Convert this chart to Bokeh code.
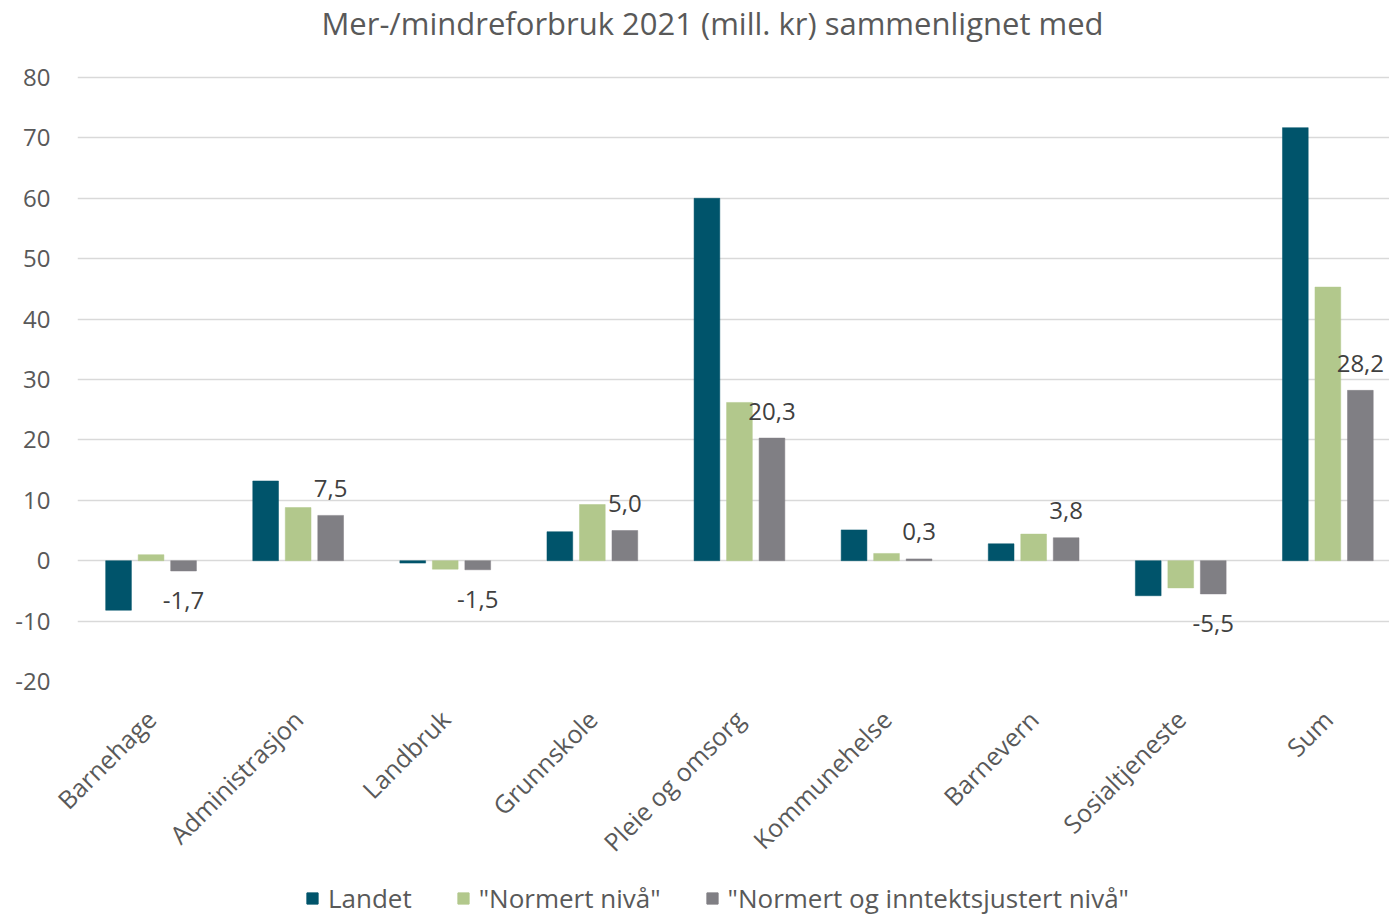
from bokeh.plotting import figure
from bokeh.layouts import column
from bokeh.models import (ColumnDataSource, Range1d, FixedTicker, Legend, LegendItem, Label)
from bokeh.core.properties import value
from bokeh.embed import file_html
from bokeh.resources import INLINE

categories = ["Barnehage", "Administrasjon", "Landbruk", "Grunnskole", "Pleie og omsorg",
              "Kommunehelse", "Barnevern", "Sosialtjeneste", "Sum"]
landet = [-8.2, 13.2, -0.4, 4.8, 60.0, 5.1, 2.8, -5.8, 71.7]
normert = [1.0, 8.8, -1.4, 9.3, 26.2, 1.2, 4.4, -4.5, 45.3]
inntekt = [-1.7, 7.5, -1.5, 5.0, 20.3, 0.3, 3.8, -5.5, 28.2]
series_names = ["Landet", "\"Normert nivå\"", "\"Normert og inntektsjustert nivå\""]
colors = ["#00546B", "#B2C88C", "#807F84"]
y_ticks = [-20, -10, 0, 10, 20, 30, 40, 50, 60, 70, 80]
title_text = "Mer-/mindreforbruk 2021 (mill. kr) sammenlignet med"

FONT = value("Open Sans")
n = len(categories)
centers = [i + 0.5 for i in range(n)]
offset = 0.221
bw = 0.175
W = 1389
LEFT = 77
FW, FH = W - LEFT, 606
CAT_PX = 147.1
PX_PER_UNIT = 6.04
TITLE_H, LEGEND_H, TOP_PAD = 60, 40, 15
BOTTOM = 916 - TITLE_H - TOP_PAD - FH - LEGEND_H


def blank(h):
    f = figure(width=W, height=h, output_backend="svg", toolbar_location=None,
               x_range=Range1d(LEFT, W), y_range=Range1d(0, h),
               x_axis_type=None, y_axis_type=None,
               min_border=0, min_border_left=0, min_border_right=0,
               min_border_top=0, min_border_bottom=0)
    f.outline_line_color = None
    f.xgrid.visible = False
    f.ygrid.visible = False
    return f


# title strip
tf = blank(TITLE_H)
tf.add_layout(Label(x=712, y=TITLE_H - 22, text=title_text, text_font="Open Sans",
                    text_font_size="31px", text_color="#595959",
                    text_align="center", text_baseline="middle"))

# main chart
p = figure(frame_width=FW, frame_height=FH, output_backend="svg", toolbar_location=None,
           x_range=Range1d(0, FW / CAT_PX), y_range=Range1d(-20, -20 + FH / PX_PER_UNIT),
           min_border_left=LEFT, min_border_right=0, min_border_top=TOP_PAD,
           min_border_bottom=BOTTOM)
p.outline_line_color = None

for k, (vals, col) in enumerate(zip([landet, normert, inntekt], colors)):
    src = ColumnDataSource(dict(x=[c + (k - 1) * offset for c in centers], top=vals))
    p.vbar(x="x", top="top", bottom=0, width=bw, source=src, fill_color=col,
           line_color=col, line_width=0.5)

pos = [i for i, v in enumerate(inntekt) if v >= 0]
neg = [i for i, v in enumerate(inntekt) if v < 0]
for idxs, yoff in [(pos, -27), (neg, 30)]:
    src = ColumnDataSource(dict(
        x=[centers[i] + offset for i in idxs],
        y=[inntekt[i] for i in idxs],
        t=[("%.1f" % inntekt[i]).replace(".", ",") for i in idxs]))
    p.text(x="x", y="y", text="t", source=src, text_font=FONT, text_font_size="24px",
           text_color="#404040", text_align="center", text_baseline="alphabetic",
           y_offset=yoff)

p.xgrid.grid_line_color = None
p.ygrid.grid_line_color = "#D9D9D9"
p.ygrid.grid_line_width = 1.3
p.ygrid.ticker = FixedTicker(ticks=y_ticks)

p.yaxis.ticker = FixedTicker(ticks=y_ticks)
p.yaxis.major_label_overrides = {t: str(t) for t in y_ticks}
p.yaxis.axis_line_color = None
p.yaxis.major_tick_line_color = None
p.yaxis.minor_tick_line_color = None
p.yaxis.major_label_text_font = "Open Sans"
p.yaxis.major_label_text_font_size = "24px"
p.yaxis.major_label_text_color = "#595959"
p.yaxis.major_label_standoff = 21

p.xaxis.ticker = FixedTicker(ticks=centers)
p.xaxis.major_label_overrides = {c: name for c, name in zip(centers, categories)}
p.xaxis.axis_line_color = None
p.xaxis.major_tick_line_color = None
p.xaxis.minor_tick_line_color = None
p.xaxis.major_label_orientation = 0.785398
p.xaxis.major_label_text_font = "Open Sans"
p.xaxis.major_label_text_font_size = "25px"
p.xaxis.major_label_text_color = "#595959"
p.xaxis.major_label_standoff = 27

# legend strip (swatch renderers kept outside the visible range; only their legend swatches show)
lf = blank(LEGEND_H)
items = []
for nm, col in zip(series_names, colors):
    r = lf.vbar(x=[-1000], top=[-1000], bottom=-1001, width=1, fill_color=col, line_color=col)
    items.append(LegendItem(label=nm, renderers=[r]))
legend = Legend(items=items, orientation="horizontal", location=(228, 0),
                label_text_font="Open Sans", label_text_font_size="26px",
                label_text_color="#595959", glyph_width=14, glyph_height=14,
                label_standoff=9, spacing=44, border_line_color=None,
                background_fill_alpha=0, margin=0, padding=0)
lf.add_layout(legend, "center")

layout = column(tf, p, lf, spacing=0)
open("out.html", "w").write(file_html(layout, INLINE))
